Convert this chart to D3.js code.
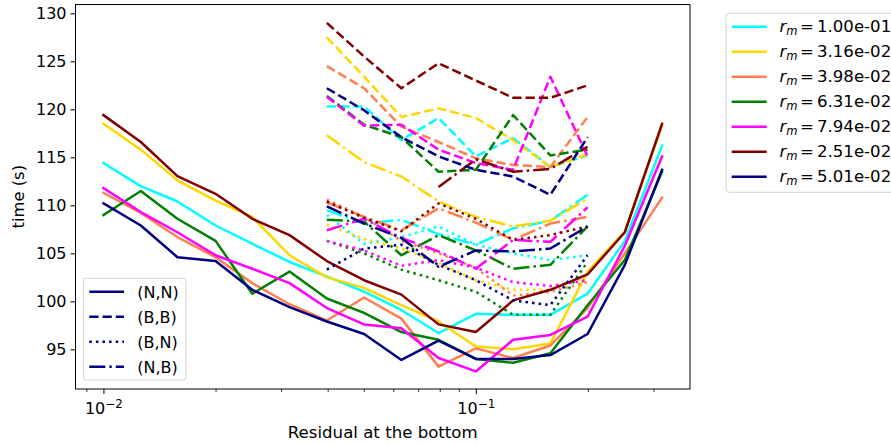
<!DOCTYPE html>
<html>
<head>
<meta charset="utf-8">
<script src="https://cdn.jsdelivr.net/npm/d3@7"></script>
<style>
  body { margin: 0; background: #fff; }
  svg { display: block; font-family: "DejaVu Sans", sans-serif; }
</style>
</head>
<body>
<svg id="chart" width="891" height="444"></svg>
<script>
// ---- data ----
const residuals = [0.0100, 0.0126, 0.0158, 0.0200, 0.0251, 0.0316, 0.0398, 0.0501,
                   0.0631, 0.0794, 0.1000, 0.1259, 0.1585, 0.1995, 0.2512, 0.3162];
const residualsShort = [0.0398, 0.0501, 0.0631, 0.0794, 0.1000, 0.1259, 0.1585, 0.1995];

const rmLabels = ["1.00e-01", "3.16e-02", "3.98e-02", "6.31e-02", "7.94e-02", "2.51e-02", "5.01e-02"];
const rmColors = ["#00ffff", "#ffd700", "#ff7f50", "#008000", "#ff00ff", "#800000", "#000080"];

const styleNames = ["(N,N)", "(B,B)", "(B,N)", "(N,B)"];

// (N,N) solid, over all residuals
const timeNN = [
  [114.4, 112.0, 110.4, 107.9, 106.0, 104.1, 102.6, 101.0, 99.1, 96.7, 98.7, 98.6, 98.6, 100.8, 106.3, 116.2],
  [118.5, 115.8, 112.6, 110.5, 108.8, 104.8, 102.5, 101.4, 99.6, 97.9, 95.3, 95.0, 95.6, 103.1, 107.3, 118.3],
  [111.3, 109.2, 106.7, 104.6, 101.9, 99.7, 98.0, 100.4, 98.2, 93.2, 95.1, 94.1, 95.4, 99.3, 105.0, 110.8],
  [109.0, 111.5, 108.6, 106.3, 100.8, 103.1, 100.3, 98.8, 96.8, 96.0, 94.0, 93.6, 94.6, 99.6, 104.3, 113.5],
  [111.8, 109.3, 107.2, 104.8, 103.4, 101.9, 99.3, 97.6, 97.2, 94.1, 92.7, 96.0, 96.5, 98.4, 105.8, 115.1],
  [119.4, 116.6, 113.05, 111.2, 108.6, 106.9, 104.2, 102.2, 100.7, 97.6, 96.8, 100.1, 101.2, 102.8, 107.2, 118.5],
  [110.2, 107.9, 104.6, 104.2, 101.2, 99.4, 97.9, 96.6, 93.9, 95.9, 94.0, 94.0, 94.4, 96.6, 103.8, 113.7]
];
// (B,B) dashed
const timeBB = [
  [120.3, 120.3, 116.8, 119.1, 115.1, 117.0, 114.0, 115.2],
  [127.5, 123.4, 119.2, 120.1, 119.1, 116.8, 114.0, 115.3],
  [124.5, 122.2, 118.2, 116.6, 114.9, 114.2, 114.0, 119.2],
  [121.4, 118.4, 117.1, 113.5, 113.7, 119.4, 115.2, 115.8],
  [121.3, 118.3, 118.4, 115.8, 114.4, 113.7, 123.4, 115.1],
  [129.0, 125.5, 122.2, 124.8, 123.0, 121.2, 121.2, 122.5],
  [122.2, 119.9, 117.1, 115.1, 113.7, 113.0, 111.1, 117.1]
];
// (B,N) dotted
const timeBN = [
  [109.0, 106.0, 106.7, 107.8, 105.9, 105.0, 104.3, 104.8],
  [108.0, 106.5, 105.5, 104.0, 102.2, 101.2, 101.2, 102.6],
  [110.6, 108.8, 106.3, 105.0, 103.5, 100.6, 101.0, 102.0],
  [106.3, 105.0, 103.3, 102.2, 101.0, 98.6, 98.6, 104.1],
  [106.3, 105.3, 103.7, 104.3, 103.5, 102.0, 101.6, 102.2],
  [110.4, 108.7, 107.3, 110.2, 108.6, 106.4, 106.9, 107.8],
  [103.3, 105.5, 105.9, 103.8, 102.2, 100.1, 99.6, 104.8]
];
// (N,B) dash-dot
const timeNB = [
  [109.5, 108.1, 108.5, 107.0, 105.9, 107.6, 108.4, 111.1],
  [117.3, 114.5, 113.0, 110.4, 108.8, 107.8, 108.4, 110.7],
  [110.3, 108.8, 107.4, 109.7, 108.2, 106.4, 108.1, 108.8],
  [108.5, 108.3, 104.8, 106.9, 105.3, 103.4, 103.8, 107.8],
  [107.4, 108.6, 106.6, 105.2, 103.4, 106.4, 106.2, 109.8],
  [null, null, null, 111.9, 114.8, 113.5, 113.8, 116.1],
  [109.9, 108.1, 106.6, 103.6, 105.3, 105.2, 105.5, 107.8]
];

const yTicks = [95, 100, 105, 110, 115, 120, 125, 130];
const xMajor = [0.01, 0.1];
const xMajorExp = ["\u22122", "\u22121"];
const xMinor = [0.009, 0.02, 0.03, 0.04, 0.05, 0.06, 0.07, 0.08, 0.09, 0.2, 0.3];

// ---- layout ----
const L = 75.5, R = 690, T = 4.5, B = 389;
const lw = 2.5;
const dashes = [null, "9.25,4", "2.5,4.1", "16,4,2.5,4"];

const svg = d3.select("#chart");
const x = d3.scaleLog().domain([Math.pow(10, -2.075), Math.pow(10, -0.425)]).range([L, R]);
const y = d3.scaleLinear().domain([90.87, 130.92]).range([B, T]);

const plot = svg.append("g");
const line = d3.line().defined(d => d[1] != null).x(d => x(d[0])).y(d => y(d[1]));

rmColors.forEach((c, i) => {
  const sets = [
    [residuals, timeNN[i]],
    [residualsShort, timeBB[i]],
    [residualsShort, timeBN[i]],
    [residualsShort, timeNB[i]]
  ];
  sets.forEach((s, j) => {
    const pts = s[0].map((xv, k) => [xv, s[1][k]]);
    plot.append("path")
      .attr("d", line(pts))
      .attr("fill", "none")
      .attr("stroke", c)
      .attr("stroke-width", lw)
      .attr("stroke-linejoin", "round")
      .attr("stroke-linecap", j === 0 ? "square" : "butt")
      .attr("stroke-dasharray", dashes[j]);
  });
});

// ---- axes ----
const yAxis = svg.append("g").attr("transform", `translate(${L},0)`)
  .call(d3.axisLeft(y).tickValues(yTicks).tickSize(5).tickPadding(4).tickFormat(d3.format("d")));
yAxis.select(".domain").remove();
yAxis.selectAll("text").attr("font-size", 16).attr("font-family", "DejaVu Sans").attr("fill", "#000");
yAxis.selectAll("line").attr("stroke", "#000").attr("stroke-width", 1);

const xAxis = svg.append("g").attr("transform", `translate(0,${B})`)
  .call(d3.axisBottom(x).tickValues(xMajor).tickSize(5).tickFormat(""));
xAxis.select(".domain").remove();
xAxis.selectAll("line").attr("stroke", "#000").attr("stroke-width", 1);
xAxis.selectAll(".tick").each(function(d, i) {
  const t = d3.select(this).append("text")
    .attr("y", 25.3).attr("text-anchor", "middle").attr("fill", "#000")
    .attr("font-family", "DejaVu Sans");
  t.append("tspan").attr("font-size", 16).text("10");
  t.append("tspan").attr("font-size", 12).attr("dy", -6.5).text(xMajorExp[i]);
});
const xMinorAxis = svg.append("g").attr("transform", `translate(0,${B})`)
  .call(d3.axisBottom(x).tickValues(xMinor).tickSize(3).tickFormat(""));
xMinorAxis.select(".domain").remove();
xMinorAxis.selectAll("line").attr("stroke", "#000").attr("stroke-width", 0.8);

// frame
svg.append("rect").attr("x", L).attr("y", T).attr("width", R - L).attr("height", B - T)
  .attr("fill", "none").attr("stroke", "#000").attr("stroke-width", 1);

// labels
svg.append("text").attr("x", (L + R) / 2).attr("y", 438).attr("text-anchor", "middle")
  .attr("font-size", 16.6).attr("fill", "#000").text("Residual at the bottom");
svg.append("text").attr("transform", `translate(23.5,${(T + B) / 2}) rotate(-90)`)
  .attr("text-anchor", "middle").attr("font-size", 16.4).attr("fill", "#000").text("time (s)");

// ---- left legend (line styles) ----
const lg = svg.append("g");
lg.append("rect").attr("x", 83.3).attr("y", 278.3).attr("width", 102.7).attr("height", 101.7)
  .attr("rx", 3).attr("fill", "#fff").attr("fill-opacity", 0.8)
  .attr("stroke", "#d5d5d5").attr("stroke-width", 1);
styleNames.forEach((s, j) => {
  const cy = 291.7 + 25 * j;
  lg.append("line").attr("x1", 89.3).attr("x2", 124).attr("y1", cy).attr("y2", cy)
    .attr("stroke", "#000080").attr("stroke-width", lw).attr("stroke-dasharray", dashes[j]);
  lg.append("text").attr("x", 137.3).attr("y", cy + 6).attr("font-size", 16).attr("fill", "#000").text(s);
});

// ---- right legend (r_m colours) ----
const rg = svg.append("g");
rg.append("rect").attr("x", 726).attr("y", 13.3).attr("width", 200).attr("height", 179)
  .attr("rx", 3).attr("fill", "#fff").attr("fill-opacity", 0.8)
  .attr("stroke", "#d5d5d5").attr("stroke-width", 1);
rmLabels.forEach((lab, i) => {
  const cy = 26.7 + 25 * i;
  rg.append("line").attr("x1", 731.7).attr("x2", 766.7).attr("y1", cy).attr("y2", cy)
    .attr("stroke", rmColors[i]).attr("stroke-width", lw);
  const t = rg.append("text").attr("x", 779.5).attr("y", cy + 5.5).attr("font-size", 16.6).attr("fill", "#000");
  t.append("tspan").attr("font-style", "italic").text("r");
  t.append("tspan").attr("font-style", "italic").attr("font-size", 11.5).attr("dy", 3).text("m");
  t.append("tspan").attr("dy", -3).attr("dx", 2.5).text("=");
  t.append("tspan").attr("dx", 3).text(lab);
});
</script>
</body>
</html>
